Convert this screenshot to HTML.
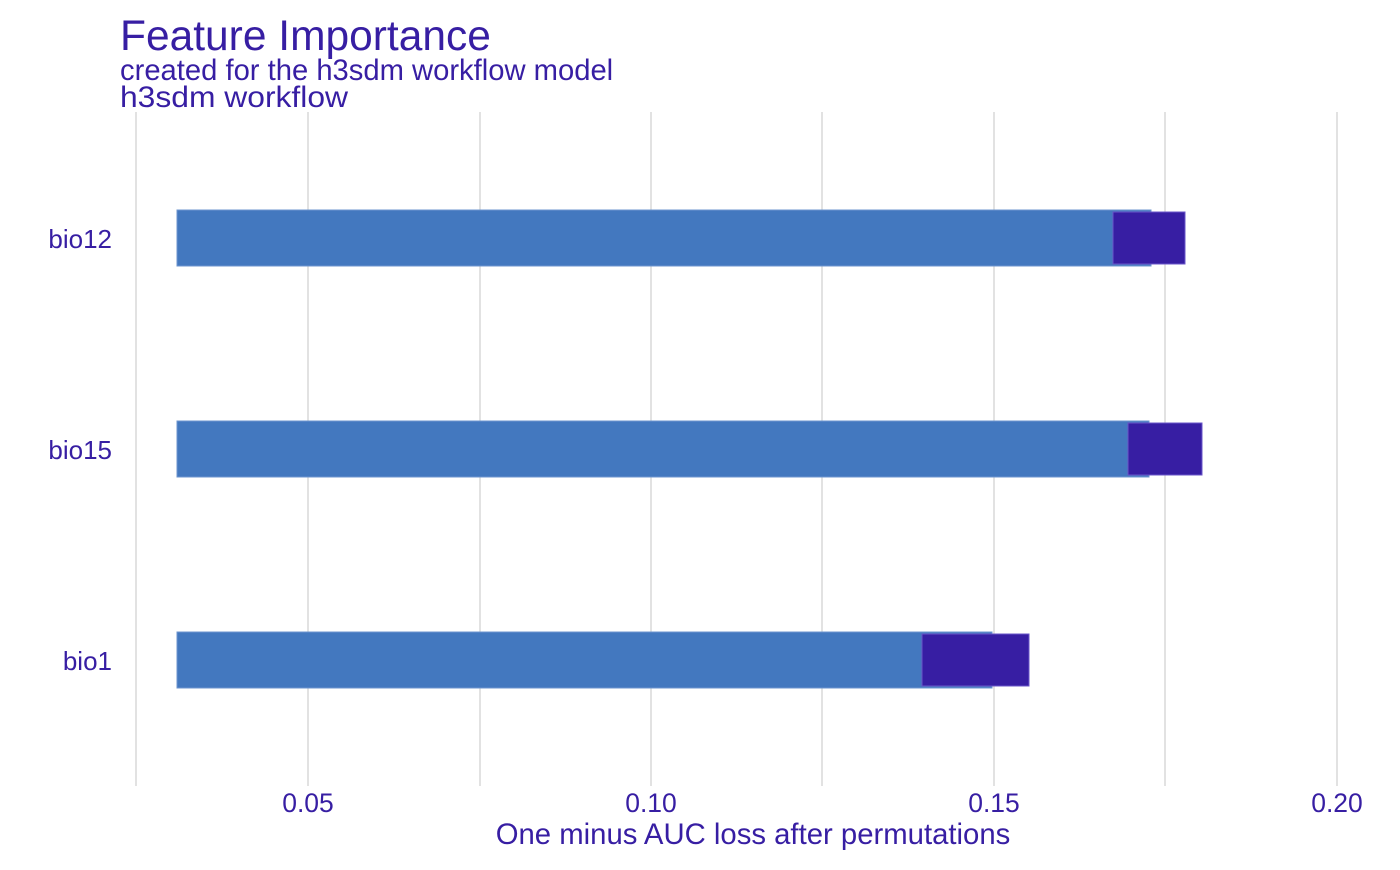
<!DOCTYPE html>
<html><head><meta charset="utf-8"><style>body{margin:0;background:#fff}</style></head>
<body>
<svg width="1400" height="865" xmlns="http://www.w3.org/2000/svg" font-family="Liberation Sans, sans-serif" fill="#371ea3">
<g stroke="#e2e2e2" stroke-width="2">
<line x1="136" y1="112" x2="136" y2="786"/><line x1="308" y1="112" x2="308" y2="786"/>
<line x1="480" y1="112" x2="480" y2="786"/><line x1="651" y1="112" x2="651" y2="786"/>
<line x1="822" y1="112" x2="822" y2="786"/><line x1="994" y1="112" x2="994" y2="786"/>
<line x1="1165" y1="112" x2="1165" y2="786"/><line x1="1337" y1="112" x2="1337" y2="786"/>
</g>
<g fill="#4378bf" stroke="#6c95cf" stroke-width="1">
<rect x="177" y="210" width="974" height="56"/>
<rect x="177" y="421" width="972" height="56"/>
<rect x="177" y="632" width="815" height="56"/>
</g>
<g fill="#371ea3" stroke="#6a55c8" stroke-width="1">
<rect x="1113" y="212" width="72" height="52"/>
<rect x="1128" y="423" width="74" height="52"/>
<rect x="922" y="634" width="107" height="52"/>
</g>
<text x="120" y="50" font-size="42.5">Feature Importance</text>
<text x="120" y="80" font-size="29.2">created for the h3sdm workflow model</text>
<text x="120" y="107" font-size="29.2" textLength="228" lengthAdjust="spacingAndGlyphs">h3sdm workflow</text>
<g font-size="26" text-anchor="end">
<text x="112" y="248">bio12</text>
<text x="112" y="459">bio15</text>
<text x="112" y="670">bio1</text>
</g>
<g font-size="26.5" text-anchor="middle">
<text x="308" y="812">0.05</text>
<text x="651" y="812">0.10</text>
<text x="994" y="812">0.15</text>
<text x="1337" y="812">0.20</text>
<text x="753" y="844" font-size="29.3">One minus AUC loss after permutations</text>
</g>
</svg>
</body></html>
